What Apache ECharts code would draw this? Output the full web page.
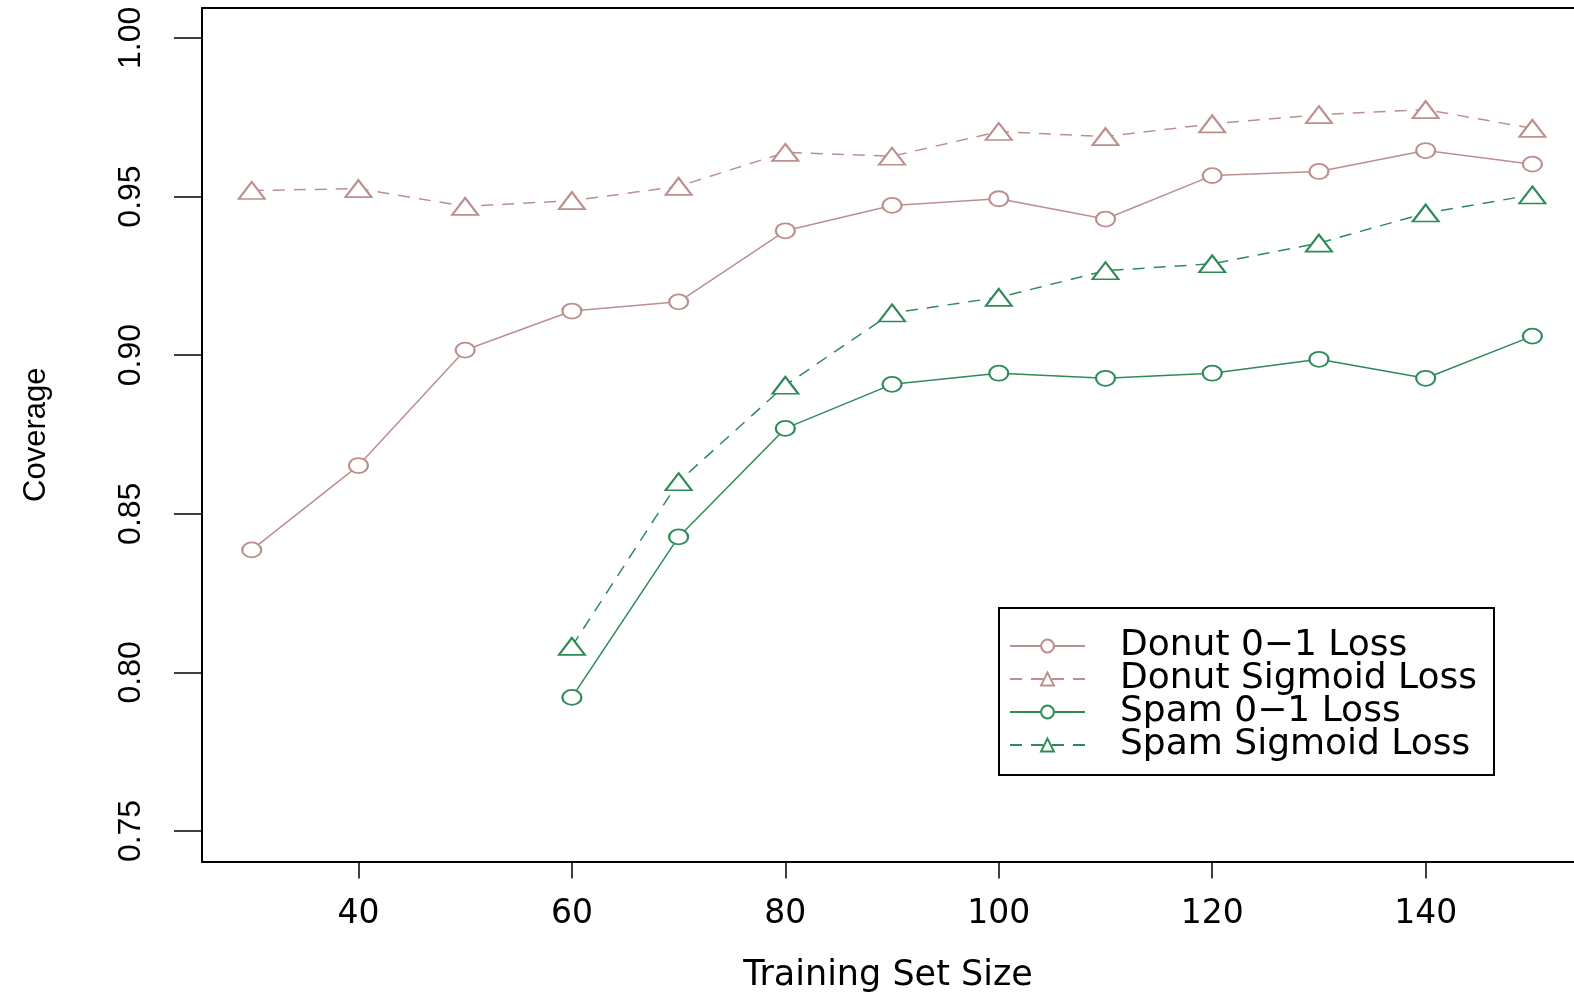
<!DOCTYPE html>
<html>
<head>
<meta charset="utf-8">
<script src="https://cdn.jsdelivr.net/npm/echarts@6/dist/echarts.min.js"></script>
<style>
  html, body { margin: 0; padding: 0; background: #fff; }
  #main { width: 1574px; height: 994px; }
</style>
</head>
<body>
<div id="main"></div>
<script type="text/javascript">
// training set sizes
var sizes = [30, 40, 50, 60, 70, 80, 90, 100, 110, 120, 130, 140, 150];

// coverage values (null = no point)
var donut01 = [0.8386, 0.8652, 0.9016, 0.9139, 0.9168, 0.9392, 0.9472, 0.9493, 0.9429, 0.9566, 0.9579, 0.9645, 0.9602];
var donutSig = [0.9519, 0.9525, 0.9469, 0.9487, 0.9532, 0.9639, 0.9627, 0.9705, 0.9689, 0.9729, 0.9758, 0.9774, 0.9715];
var spam01 = [null, null, null, 0.7921, 0.8427, 0.8769, 0.8908, 0.8943, 0.8927, 0.8943, 0.8987, 0.8927, 0.9060];
var spamSig = [null, null, null, 0.8082, 0.8601, 0.8905, 0.9133, 0.9182, 0.9266, 0.9288, 0.9353, 0.9448, 0.9505];

var xTicks = [40, 60, 80, 100, 120, 140];
var yTicks = [0.75, 0.80, 0.85, 0.90, 0.95, 1.00];

var seriesNames = ['Donut 0\u22121 Loss', 'Donut Sigmoid Loss', 'Spam 0\u22121 Loss', 'Spam Sigmoid Loss'];

var brown = '#bc8f8f';
var green = '#2e8b57';

function pairs(vals) {
    var out = [];
    for (var i = 0; i < sizes.length; i++) {
        if (vals[i] != null) out.push([sizes[i], vals[i]]);
    }
    return out;
}

function makeSeries(name, vals, color, symbol, size, dashed) {
    return {
        name: name,
        type: 'line',
        data: pairs(vals),
        symbol: symbol,
        symbolSize: size,
        showAllSymbol: true,
        lineStyle: { color: color, width: 1.5, type: dashed ? [12, 9] : 'solid' },
        itemStyle: { color: color, borderColor: color, borderWidth: 1.6 },
        emphasis: { disabled: true },
        z: 3
    };
}

var chart = echarts.init(document.getElementById('main'));

var option = {
    backgroundColor: '#ffffff',
    animation: false,
    grid: {
        left: 202, top: 8, right: 0, height: 853.5,
        outerBoundsMode: 'none',
        containLabel: false
    },
    legend: {
        orient: 'vertical',
        left: 999, top: 608,
        padding: [20, 17, 12, 10],
        borderColor: '#000', borderWidth: 2,
        backgroundColor: '#fff',
        itemWidth: 75, itemHeight: 16, itemGap: -3,
        textStyle: {
            fontFamily: 'DejaVu Sans', fontSize: 36, color: '#000',
            padding: [0, 0, 0, 30]
        },
        data: seriesNames
    },
    xAxis: [{
        type: 'value',
        min: 25.34, max: 153.9,
        name: 'Training Set Size',
        nameLocation: 'middle',
        nameGap: 97,
        nameTextStyle: { fontFamily: 'DejaVu Sans', fontSize: 35, color: '#000', verticalAlign: 'top' },
        axisLine: { show: true, onZero: false, lineStyle: { color: '#000', width: 2 } },
        axisTick: { show: true, length: 17, customValues: xTicks, lineStyle: { color: '#000', width: 1.5 } },
        axisLabel: {
            customValues: xTicks,
            margin: 36,
            fontFamily: 'DejaVu Sans', fontSize: 33, color: '#000'
        },
        splitLine: { show: false }
    }, {
        // top edge of the plot box
        type: 'value',
        position: 'top',
        min: 25.34, max: 153.9,
        axisLine: { show: true, onZero: false, lineStyle: { color: '#000', width: 2 } },
        axisTick: { show: false },
        axisLabel: { show: false },
        splitLine: { show: false }
    }],
    yAxis: {
        type: 'value',
        min: 0.74038, max: 1.00943,
        name: 'Coverage',
        nameLocation: 'middle',
        nameGap: 150,
        nameTextStyle: { fontFamily: 'Liberation Sans', fontSize: 31, color: '#000' },
        axisLine: { show: true, onZero: false, lineStyle: { color: '#000', width: 2 } },
        axisTick: { show: true, length: 28, customValues: yTicks, lineStyle: { color: '#000', width: 1.5 } },
        axisLabel: {
            customValues: yTicks,
            rotate: 90,
            margin: 55,
            fontFamily: 'Liberation Sans', fontSize: 32, color: '#000',
            formatter: function (v) { return v.toFixed(2); }
        },
        splitLine: { show: false }
    },
    series: [
        makeSeries(seriesNames[0], donut01, brown, 'emptyCircle', [19, 15], false),
        makeSeries(seriesNames[1], donutSig, brown, 'emptyTriangle', [26, 17], true),
        makeSeries(seriesNames[2], spam01, green, 'emptyCircle', [19, 15], false),
        makeSeries(seriesNames[3], spamSig, green, 'emptyTriangle', [26, 17], true)
    ]
};

chart.setOption(option);
</script>
</body>
</html>
